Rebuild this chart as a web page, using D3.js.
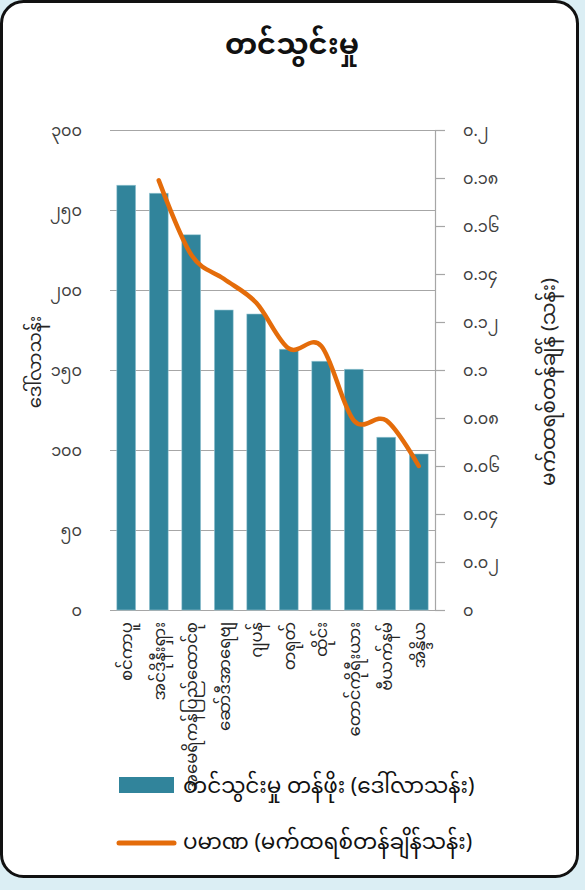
<!DOCTYPE html>
<html>
<head>
<meta charset="utf-8">
<script src="https://cdn.jsdelivr.net/npm/d3@7"></script>
<style>
  html, body { margin: 0; padding: 0; background: #dbeef4; }
  svg { display: block; font-family: "Noto Sans Myanmar", "Noto Sans", sans-serif; }
</style>
</head>
<body>
<div id="chart-area"></div>
<script>
const categories = ["စင်ကာပူ", "အင်ဒိုနီးရှား", "အမေရိကန်ပြည်ထောင်စု", "ဆော်ဒီအာရေဗျ", "ဂျပန်", "တရုတ်", "ထိုင်း", "တောင်ကိုရီးယား", "ဗီယက်နမ်", "အိန္ဒိယ"];
const importValue = [265.5, 260.5, 234.5, 187.5, 185, 163, 155.5, 150.5, 108, 97.5];
const importVolume = [null, 0.179, 0.148, 0.138, 0.128, 0.109, 0.11, 0.079, 0.079, 0.06];
const leftTicks = [0, 50, 100, 150, 200, 250, 300];
const rightTicks = [0, 0.02, 0.04, 0.06, 0.08, 0.1, 0.12, 0.14, 0.16, 0.18, 0.2];

const titleText = "တင်သွင်းမှု";
const leftTitle = "ဒေါ်လာသန်း";
const rightTitle = "မက်ထရစ်တန်ချိန် (သန်း)";
const legendLabels = ["တင်သွင်းမှု တန်ဖိုး (ဒေါ်လာသန်း)", "ပမာဏ (မက်ထရစ်တန်ချိန်သန်း)"];

const barColor = "#31849b";
const lineColor = "#e46c0a";

const myDigits = "၀၁၂၃၄၅၆၇၈၉";
const toMy = (n) => String(+n.toFixed(2)).replace(/\d/g, (d) => myDigits[d]);

const svg = d3
  .select("#chart-area")
  .append("svg")
  .attr("width", 585)
  .attr("height", 890);

// card
svg
  .append("rect")
  .attr("x", 1.5)
  .attr("y", 1.5)
  .attr("width", 576)
  .attr("height", 875)
  .attr("rx", 22)
  .attr("fill", "white")
  .attr("stroke", "#111")
  .attr("stroke-width", 3);

svg
  .append("text")
  .attr("x", 292)
  .attr("y", 54)
  .attr("text-anchor", "middle")
  .style("font-size", "29px")
  .style("font-weight", "bold")
  .attr("fill", "#111")
  .text(titleText);

const x = d3.scaleBand(categories, [110, 435]).paddingInner(0.42).paddingOuter(0.21);
const yL = d3.scaleLinear([0, 300], [610, 130]);
const yR = d3.scaleLinear([0, 0.2], [610, 130]);

// gridlines
svg
  .append("g")
  .selectAll("line")
  .data(leftTicks)
  .join("line")
  .attr("x1", 110)
  .attr("x2", 435)
  .attr("y1", (d) => yL(d) + 0.5)
  .attr("y2", (d) => yL(d) + 0.5)
  .attr("stroke", "#a6a6a6")
  .attr("stroke-width", 1.2);

// left tick labels
svg
  .append("g")
  .selectAll("text")
  .data(leftTicks)
  .join("text")
  .attr("x", 82)
  .attr("y", (d) => yL(d))
  .attr("dy", "0.35em")
  .attr("text-anchor", "end")
  .style("font-size", "16px")
  .attr("fill", "#404040")
  .text((d) => toMy(d));

// bars
svg
  .append("g")
  .selectAll("rect")
  .data(importValue)
  .join("rect")
  .attr("x", (d, i) => x(categories[i]))
  .attr("width", x.bandwidth())
  .attr("y", (d) => yL(d))
  .attr("height", (d) => yL(0) - yL(d))
  .attr("fill", barColor)
  .attr("stroke", "#9cc9d6")
  .attr("stroke-width", 0.6);

// right axis
const rightAxis = svg.append("g");
rightAxis
  .append("line")
  .attr("x1", 435.5)
  .attr("x2", 435.5)
  .attr("y1", 130)
  .attr("y2", 611)
  .attr("stroke", "#a6a6a6")
  .attr("stroke-width", 1.2);
rightAxis
  .selectAll(".tick")
  .data(rightTicks)
  .join("line")
  .attr("x1", 435)
  .attr("x2", 445)
  .attr("y1", (d) => yR(d) + 0.5)
  .attr("y2", (d) => yR(d) + 0.5)
  .attr("stroke", "#a6a6a6")
  .attr("stroke-width", 1.2);
rightAxis
  .selectAll("text")
  .data(rightTicks)
  .join("text")
  .attr("x", 463)
  .attr("y", (d) => yR(d))
  .attr("dy", "0.35em")
  .style("font-size", "16px")
  .attr("fill", "#404040")
  .text((d) => toMy(d));

// category labels
svg
  .append("g")
  .selectAll("text")
  .data(categories)
  .join("text")
  .attr("transform", (d) => `translate(${x(d) + x.bandwidth() / 2}, 622) rotate(-90)`)
  .attr("dy", "0.35em")
  .attr("text-anchor", "end")
  .style("font-size", "16.5px")
  .attr("fill", "#262626")
  .text((d) => d);

// volume line
const line = d3
  .line()
  .defined((d) => d != null)
  .x((d, i) => x(categories[i]) + x.bandwidth() / 2)
  .y((d) => yR(d))
  .curve(d3.curveCardinal.tension(0));

svg
  .append("path")
  .datum(importVolume)
  .attr("d", line)
  .attr("fill", "none")
  .attr("stroke", lineColor)
  .attr("stroke-width", 4.5)
  .attr("stroke-linecap", "round");

// axis titles
svg
  .append("text")
  .attr("transform", "translate(35, 362) rotate(-90)")
  .attr("dy", "0.35em")
  .attr("text-anchor", "middle")
  .style("font-size", "18px")
  .attr("fill", "#262626")
  .text(leftTitle);

svg
  .append("text")
  .attr("transform", "translate(548, 382) rotate(-90)")
  .attr("dy", "0.35em")
  .attr("text-anchor", "middle")
  .style("font-size", "20px")
  .attr("fill", "#262626")
  .text(rightTitle);

// legend
const legend = svg.append("g");
legend
  .append("rect")
  .attr("x", 119)
  .attr("y", 777)
  .attr("width", 55)
  .attr("height", 16)
  .attr("fill", barColor);
legend
  .append("line")
  .attr("x1", 119)
  .attr("x2", 174)
  .attr("y1", 843)
  .attr("y2", 843)
  .attr("stroke", lineColor)
  .attr("stroke-width", 5)
  .attr("stroke-linecap", "round");
legend
  .selectAll("text")
  .data(legendLabels)
  .join("text")
  .attr("x", 183)
  .attr("y", (d, i) => 785 + i * 56)
  .attr("dy", "0.35em")
  .style("font-size", "21.5px")
  .attr("fill", "#111")
  .text((d) => d);
</script>
</body>
</html>
